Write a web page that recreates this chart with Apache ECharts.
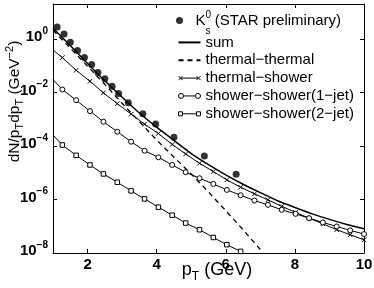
<!DOCTYPE html>
<html><head><meta charset="utf-8">
<script src="https://cdn.jsdelivr.net/npm/echarts@6/dist/echarts.min.js"></script>
<style>html,body{margin:0;padding:0;background:#fff}#c{width:374px;height:288px}</style>
</head><body><div id="c"></div>
<script>
// ---- data ----
const NAME_K0 = 'K0s (STAR preliminary)';
const NAME_SUM = 'sum';
const NAME_TT = 'thermal\u2212thermal';
const NAME_TS = 'thermal\u2212shower';
const NAME_SS1 = 'shower\u2212shower(1\u2212jet)';
const NAME_SS2 = 'shower\u2212shower(2\u2212jet)';

const ptK0  = [1.12, 1.32, 1.50, 1.71, 1.91, 2.12, 2.30, 2.50, 2.71, 2.90, 3.18, 3.60, 3.97, 4.50, 5.38, 6.30];
const valK0 = [2.75, 1.5, 0.74, 0.37, 0.20, 0.11, 0.055, 0.032, 0.017, 0.0091, 0.0041, 0.0016, 6.6e-4, 2.1e-4, 4.2e-5, 8.8e-6];

const ptSum  = [1.0, 1.5, 2.0, 2.5, 3.0, 3.5, 4.0, 4.5, 5.0, 5.5, 6.0, 6.5, 7.0, 7.5, 8.0, 8.5, 9.0, 9.5, 10.0];
const valSum = [2.5, 0.56, 0.12, 0.027, 0.0066, 0.0017, 5.0e-4, 1.6e-4, 5.2e-5, 2.0e-5, 8.3e-6, 3.7e-6, 1.8e-6, 8.9e-7, 5.0e-7, 2.9e-7, 1.8e-7, 1.17e-7, 8.1e-8];

const ptTT  = [1.0, 1.5, 2.0, 2.5, 3.0, 3.5, 4.0, 4.5, 5.0, 5.5, 6.0, 6.5, 7.0];
const valTT = [2.1, 0.45, 0.095, 0.020, 0.0039, 8.1e-4, 1.66e-4, 3.8e-5, 8.9e-6, 1.9e-6, 3.8e-7, 7.4e-8, 1.35e-8];

// first entry is where the line starts (no marker), the rest carry markers
const ptShower = [1.0, 1.27, 1.67, 2.07, 2.46, 2.86, 3.26, 3.65, 4.05, 4.45, 4.84, 5.24, 5.64, 6.03, 6.43, 6.83, 7.22, 7.62, 8.02, 8.41, 8.81, 9.21, 9.60, 10.0];
const valTS = [0.38, 0.20, 0.067, 0.026, 0.0096, 0.0038, 0.00154, 6.5e-4, 2.9e-4, 1.14e-4, 5.0e-5, 2.24e-5, 1.10e-5, 5.4e-6, 2.86e-6, 1.62e-6, 9.7e-7, 5.5e-7, 3.3e-7, 2.0e-7, 1.23e-7, 7.4e-8, 4.8e-8, 3.1e-8];
const valSS1 = [0.030, 0.0128, 0.0051, 0.0020, 8.0e-4, 3.4e-4, 1.44e-4, 6.6e-5, 3.75e-5, 1.95e-5, 1.04e-5, 6.2e-6, 3.8e-6, 2.28e-6, 1.44e-6, 9.1e-7, 6.3e-7, 4.1e-7, 2.9e-7, 2.0e-7, 1.38e-7, 9.8e-8, 7.0e-8, 5.1e-8];
const valSS2 = [2.55e-4, 1.08e-4, 4.45e-5, 1.94e-5, 8.98e-6, 4.39e-6, 2.09e-6, 1.05e-6, 5.15e-7, 2.59e-7, 1.31e-7, 7.4e-8, 3.8e-8, 2.04e-8, 1.15e-8];

const xTicks = [2, 4, 6, 8, 10];
const yTicks = [1e-8, 1e-6, 1e-4, 1e-2, 1];

// ---- chart ----
const FONT = '"Liberation Sans", Arial, Helvetica, sans-serif';
const pairs = (xs, ys) => ys.map((y, i) => [xs[i], y]);
const markedPairs = (xs, ys) => ys.map((y, i) => i === 0 ? {value: [xs[i], y], symbol: 'none'} : [xs[i], y]);
const sup = v => {
  const e = Math.round(Math.log10(v));
  return e < 0 ? '\u2212' + (-e) : String(e);
};

const openStyle = {color: '#fff', borderColor: '#000', borderWidth: 1};
const iconStyle = {color: 'none', borderColor: '#000', borderWidth: 1};
const noSymbol = {color: 'none', borderColor: 'none', borderWidth: 0, opacity: 0};

const legendBase = {
  orient: 'vertical', left: 176, padding: 0,
  itemWidth: 22, itemHeight: 7, selectedMode: false
};

const chart = echarts.init(document.getElementById('c'), null, {renderer: 'canvas'});
chart.setOption({
  animation: false,
  color: ['#000'],
  textStyle: {fontFamily: FONT},
  grid: {left: 53, right: 10, top: 4, bottom: 35, containLabel: false, outerBoundsMode: 'none'},
  legend: [Object.assign({}, legendBase, {
    top: 10, itemGap: 0,
    textStyle: {fontFamily: FONT, fontSize: 15, color: '#000',
      rich: {
        n: {fontFamily: FONT, fontSize: 15, lineHeight: 22, color: '#000'},
        sp: {fontFamily: FONT, fontSize: 10, height: 11, verticalAlign: 'top', width: 0, color: '#000'},
        sb: {fontFamily: FONT, fontSize: 10, height: 0, verticalAlign: 'bottom', color: '#000'}
      }},
    formatter: () => '{n|K}{sp|0}{sb|s}{n| (STAR preliminary)}',
    data: [{name: NAME_K0}]
  }), Object.assign({}, legendBase, {
    top: 34.4, itemGap: 1.85,
    textStyle: {fontFamily: FONT, fontSize: 15, lineHeight: 16, color: '#000'},
    data: [
      {name: NAME_SUM, itemStyle: noSymbol},
      {name: NAME_TT, itemStyle: noSymbol},
      {name: NAME_TS, icon: 'path://M0,0L4,4M0,4L4,0M2,2H20M18,0L22,4M18,4L22,0', itemStyle: iconStyle},
      {name: NAME_SS1, icon: 'path://M0,2.5a2.5,2.5 0 1,0 5,0a2.5,2.5 0 1,0 -5,0M5,2.5H17M17,2.5a2.5,2.5 0 1,0 5,0a2.5,2.5 0 1,0 -5,0', itemStyle: iconStyle},
      {name: NAME_SS2, icon: 'path://M0,0h4v4h-4zM4,2H18M18,0h4v4h-4z', itemStyle: iconStyle}
    ]
  })],
  xAxis: [{
    type: 'value', min: 1, max: 10, position: 'bottom',
    axisLine: {lineStyle: {color: '#000', width: 1}},
    axisTick: {inside: true, length: 4, customValues: xTicks, lineStyle: {color: '#000'}},
    axisLabel: {customValues: xTicks, margin: 4, color: '#000', fontSize: 15, fontWeight: 'bold', fontFamily: FONT},
    splitLine: {show: false},
    name: '{n|p}{sb|T}{n| (GeV)}', nameLocation: 'middle', nameGap: 7, nameMoveOverlap: false,
    nameTextStyle: {padding: [0, 0, 0, 17], rich: {
      n: {fontFamily: FONT, fontSize: 18, lineHeight: 20, color: '#000'},
      sb: {fontFamily: FONT, fontSize: 12, height: 6, verticalAlign: 'bottom', color: '#000'}
    }}
  }, {
    type: 'value', min: 1, max: 10, position: 'top',
    axisLine: {lineStyle: {color: '#000', width: 1}},
    axisTick: {inside: true, length: 4, customValues: xTicks, lineStyle: {color: '#000'}},
    axisLabel: {show: false}, splitLine: {show: false}
  }],
  yAxis: [{
    type: 'log', logBase: 10, min: 1e-8, max: 20, position: 'left',
    axisLine: {show: true, lineStyle: {color: '#000', width: 1}},
    axisTick: {show: true, inside: true, length: 4, customValues: yTicks, lineStyle: {color: '#000'}},
    axisLabel: {customValues: yTicks, margin: 5, color: '#000', padding: [0, 0, 4, 0],
      formatter: v => '{b|10}{s|' + sup(v) + '}',
      rich: {
        b: {fontFamily: FONT, fontSize: 15, fontWeight: 'bold', lineHeight: 22, color: '#000'},
        s: {fontFamily: FONT, fontSize: 10, fontWeight: 'bold', verticalAlign: 'top', color: '#000'}
      }},
    splitLine: {show: false},
    name: '{n|dN/p}{sb|T}{n|dp}{sb|T}{n| (GeV}{sp|\u22122}{n|)}', nameLocation: 'middle', nameGap: 29, nameRotate: 90,
    nameMoveOverlap: false,
    nameTextStyle: {padding: [0, 0, 0, 54], rich: {
      n: {fontFamily: FONT, fontSize: 15.5, lineHeight: 18, color: '#000'},
      sb: {fontFamily: FONT, fontSize: 11, height: 8, verticalAlign: 'bottom', color: '#000'},
      sp: {fontFamily: FONT, fontSize: 11, height: 8, verticalAlign: 'top', color: '#000'}
    }}
  }, {
    type: 'log', logBase: 10, min: 1e-8, max: 20, position: 'right',
    axisLine: {show: true, lineStyle: {color: '#000', width: 1}},
    axisTick: {show: true, inside: true, length: 4, customValues: yTicks, lineStyle: {color: '#000'}},
    axisLabel: {show: false}, splitLine: {show: false}
  }],
  series: [
    {name: NAME_SUM, type: 'line', data: pairs(ptSum, valSum), symbol: 'none', smooth: 0.2,
     lineStyle: {color: '#000', width: 1.5}, silent: true, z: 3},
    {name: NAME_TT, type: 'line', data: pairs(ptTT, valTT), symbol: 'none',
     lineStyle: {color: '#000', width: 1.3, type: [5, 4]}, silent: true, z: 2},
    {name: NAME_TS, type: 'line', data: markedPairs(ptShower, valTS),
     symbol: 'path://M0,0L4,4M0,4L4,0', symbolSize: 4.5, showAllSymbol: true,
     itemStyle: iconStyle, lineStyle: {color: '#000', width: 1}, silent: true, z: 2},
    {name: NAME_SS1, type: 'line', data: markedPairs(ptShower, valSS1),
     symbol: 'circle', symbolSize: 5, showAllSymbol: true,
     itemStyle: openStyle, lineStyle: {color: '#000', width: 1}, silent: true, z: 2},
    {name: NAME_SS2, type: 'line', data: markedPairs(ptShower, valSS2),
     symbol: 'rect', symbolSize: 4.5, showAllSymbol: true,
     itemStyle: openStyle, lineStyle: {color: '#000', width: 1}, silent: true, z: 2},
    {name: NAME_K0, type: 'scatter', data: pairs(ptK0, valK0), symbol: 'circle', symbolSize: 7,
     itemStyle: {color: '#000'}, silent: true, z: 4}
  ]
});
</script></body></html>
